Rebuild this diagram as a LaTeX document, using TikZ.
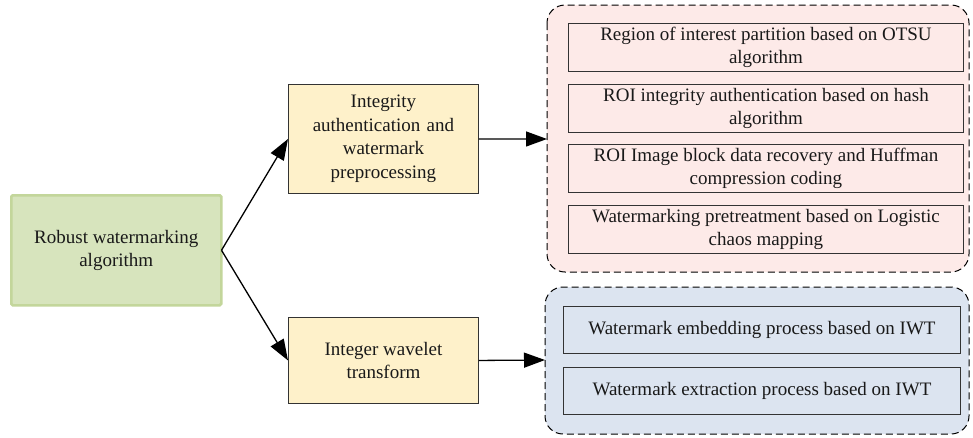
\documentclass[tikz,border=0pt]{standalone}
\usepackage{fontspec}
\setmainfont{Liberation Serif}
\usetikzlibrary{arrows.meta,positioning}
\definecolor{rootfill}{HTML}{D7E4BD}
\definecolor{rootedge}{HTML}{C3D69B}
\definecolor{midfill}{HTML}{FEF1CA}
\definecolor{redfill}{HTML}{FDEAE8}
\definecolor{bluefill}{HTML}{DCE4F0}
\definecolor{edgegray}{HTML}{333333}
\tikzset{
  x=1pt, y=-1pt,
  txt/.style={font=\fontsize{19}{23.5}\selectfont, align=center, text=black!90, inner sep=0pt},
  rootbox/.style={txt, draw=rootedge, line width=2.5pt, fill=rootfill, rounded corners=1.5pt, anchor=north west},
  midbox/.style={txt, draw=edgegray, line width=0.9pt, fill=midfill, anchor=north west},
  itembox/.style={txt, draw=edgegray, line width=0.9pt, anchor=north west},
  group/.style={draw=black, line width=1pt, rounded corners=18pt, dash pattern=on 7pt off 4pt},
  link/.style={-{Triangle[length=21pt,width=15pt]}, line width=1.3pt, black}
}
\begin{document}
\begin{tikzpicture}
\useasboundingbox (0,0) rectangle (973,437);

% left root block
\node[rootbox, minimum width=210pt, minimum height=110pt] (root) at (10,194)
  {Robust watermarking\\algorithm};

% second level
\node[midbox, minimum width=190pt, minimum height=109pt, text width=185pt] (pre) at (288,84)
  {Integrity\\authentication and\\watermark\\preprocessing};
\node[midbox, minimum width=190pt, minimum height=86pt] (iwt) at (288,317)
  {Integer wavelet\\transform};

% dashed groups
\draw[group, fill=redfill] (547,5) rectangle (969,272);
\coordinate (redin) at (547,139);
\draw[group, fill=bluefill] (545,287) rectangle (969,434);
\coordinate (bluein) at (545,360);

% items of the first group
\node[itembox, fill=redfill, minimum width=395pt, minimum height=48pt] (r1) at (568,23)
  {Region of interest partition based on OTSU\\algorithm};
\node[itembox, fill=redfill, minimum width=395pt, minimum height=48pt] (r2) at (568,84)
  {ROI integrity authentication based on hash\\algorithm};
\node[itembox, fill=redfill, minimum width=395pt, minimum height=48pt] (r3) at (568,144)
  {ROI Image block data recovery and Huffman\\compression coding};
\node[itembox, fill=redfill, minimum width=395pt, minimum height=48pt] (r4) at (568,205)
  {Watermarking pretreatment based on Logistic\\chaos mapping};

% items of the second group
\node[itembox, fill=bluefill, minimum width=397pt, minimum height=47pt] (b1) at (563,306)
  {Watermark embedding process based on IWT};
\node[itembox, fill=bluefill, minimum width=397pt, minimum height=47pt] (b2) at (563,367)
  {Watermark extraction process based on IWT};

% connectors
\coordinate (fork) at ([xshift=-1pt]root.east);
\draw[link] (fork) -- (pre.west);
\draw[link] (fork) -- (iwt.west);
\draw[link] (pre.east) -- (redin);
\draw[link] (iwt.east) -- (bluein);
\end{tikzpicture}
\end{document}
